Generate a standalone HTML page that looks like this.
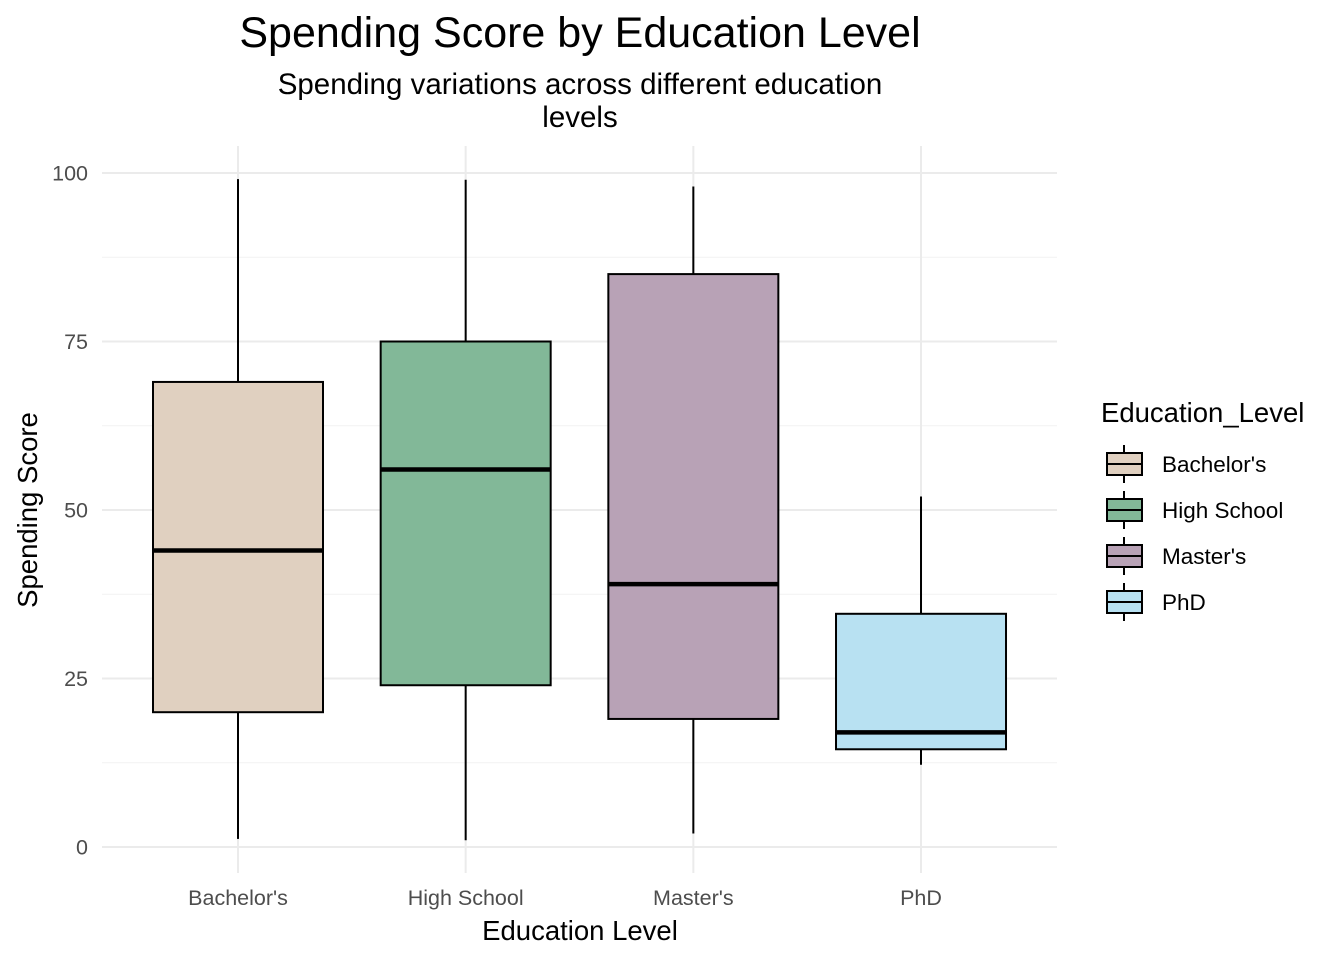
<!DOCTYPE html>
<html><head><meta charset="utf-8"><style>
html,body{margin:0;padding:0;background:#fff;}
svg{display:block;font-family:"Liberation Sans",Arial,sans-serif;}
</style></head><body>
<svg id="chart" width="1344" height="960" viewBox="0 0 1344 960" xmlns="http://www.w3.org/2000/svg">
<text x="580" y="47" font-size="43" text-anchor="middle" fill="#000">Spending Score by Education Level</text>
<text x="580" y="94" font-size="29.5" text-anchor="middle" fill="#000">Spending variations across different education</text>
<text x="580" y="127" font-size="29.5" text-anchor="middle" fill="#000">levels</text>
<g id="grid"></g>
<g id="boxes"></g>
<g id="axes"></g>
<text x="580" y="940" font-size="27.5" text-anchor="middle" fill="#000">Education Level</text>
<text transform="translate(37,510) rotate(-90)" font-size="27.5" text-anchor="middle" fill="#000">Spending Score</text>
<g id="legend"></g>
</svg>
<script>
const categories = ["Bachelor's","High School","Master's","PhD"];
const whiskerLow = [1.2, 1, 2, 12.2];
const q1 = [20, 24, 19, 14.5];
const median = [44, 56, 39, 17];
const q3 = [69, 75, 85, 34.6];
const whiskerHigh = [99.1, 99, 98, 52];
const yTicks = [0, 25, 50, 75, 100];
const yMinor = [12.5, 37.5, 62.5, 87.5];
const colors = ["#e0d0c0","#82b898","#b8a2b6","#b8e1f2"];

const NS = "http://www.w3.org/2000/svg";
const y = v => 847 - v * 6.74;
const x = i => 238 + i * 227.67;
const BW = 170;
function mk(tag, attrs, parent, text){
  const e = document.createElementNS(NS, tag);
  for (const k in attrs) e.setAttribute(k, attrs[k]);
  if (text !== undefined) e.textContent = text;
  parent.appendChild(e); return e;
}
const grid = document.getElementById('grid');
yMinor.forEach(v=>{
  const l = mk('line',{x1:102,x2:1057,y1:y(v),y2:y(v),stroke:'#f2f2f2','stroke-width':1},grid);
  
  
});
yTicks.forEach(v=>{
  const l = mk('line',{x1:102,x2:1057,y1:y(v),y2:y(v),stroke:'#ebebeb','stroke-width':2},grid);
  
  
});
categories.forEach((c,i)=>{
  const l = mk('line',{x1:x(i),x2:x(i),y1:146,y2:873,stroke:'#ebebeb','stroke-width':2},grid);
  
  
});
const axes = document.getElementById('axes');
yTicks.forEach(v=>{
  const t = mk('text',{x:88,y:y(v)+7.5,'font-size':21.5,'text-anchor':'end',fill:'#4d4d4d'},axes,String(v));
  
  
});
categories.forEach((c,i)=>{
  const t = mk('text',{x:x(i),y:905,'font-size':21.5,'text-anchor':'middle',fill:'#4d4d4d'},axes,c);
  
  
});
const boxes = document.getElementById('boxes');
categories.forEach((c,i)=>{
  const g = mk('g',{},boxes);
  
  
  mk('line',{x1:x(i),x2:x(i),y1:y(whiskerHigh[i]),y2:y(q3[i]),stroke:'#000','stroke-width':2},g);
  mk('line',{x1:x(i),x2:x(i),y1:y(q1[i]),y2:y(whiskerLow[i]),stroke:'#000','stroke-width':2},g);
  mk('rect',{x:x(i)-BW/2,y:y(q3[i]),width:BW,height:y(q1[i])-y(q3[i]),fill:colors[i],stroke:'#000','stroke-width':2},g);
  mk('line',{x1:x(i)-BW/2,x2:x(i)+BW/2,y1:y(median[i]),y2:y(median[i]),stroke:'#000','stroke-width':4.5},g);
});
const legend = document.getElementById('legend');
const lt = mk('text',{x:1101,y:422,'font-size':27.5,fill:'#000'},legend,'Education_Level');


categories.forEach((c,i)=>{
  const cy = 464 + i*46;
  const g = mk('g',{},legend);
  
  
  mk('line',{x1:1124,x2:1124,y1:cy-19,y2:cy+19,stroke:'#000','stroke-width':2},g);
  mk('rect',{x:1107,y:cy-11,width:35,height:22,fill:colors[i],stroke:'#000','stroke-width':2},g);
  mk('line',{x1:1107,x2:1142,y1:cy,y2:cy,stroke:'#000','stroke-width':2},g);
  mk('text',{x:1162,y:cy+8,'font-size':22.5,fill:'#000'},g,c);
});
</script>
</body></html>
